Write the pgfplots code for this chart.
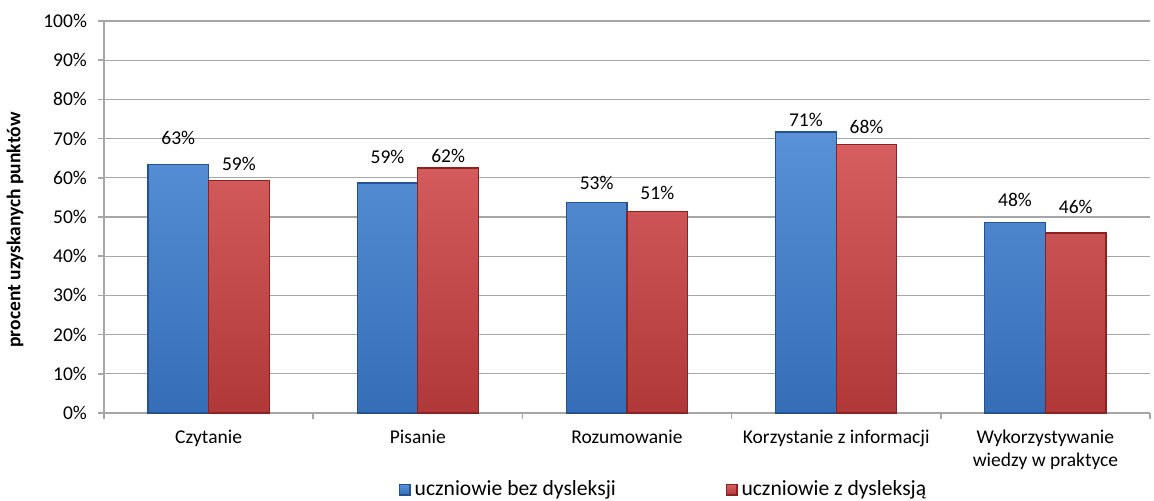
\documentclass[border=0pt]{standalone}
\usepackage{pgfplots}
\pgfplotsset{compat=1.18}
\usepackage{pgfplotstable}
\usepackage{fontspec}
\setmainfont{Carlito}

\definecolor{barblue}{HTML}{3C7DD0}
\definecolor{barblueedge}{HTML}{24528F}
\definecolor{barred}{HTML}{D04242}
\definecolor{barrededge}{HTML}{8A2222}
\definecolor{gridgray}{HTML}{A6A6A6}

% bar heights (percent)
\pgfplotstableread{
x blue red
0 63.3 59.4
1 58.7 62.5
2 53.6 51.5
3 71.7 68.4
4 48.5 45.9
}\wyniki

% data labels: text and vertical position of the label centre
\pgfplotstableread{
x blab bpos rlab rpos
0 63 70.2 59 63.5
1 59 65.3 62 65.6
2 53 58.7 51 56.1
3 71 74.7 68 73.0
4 48 54.3 46 52.6
}\etykiety

\begin{document}
\begin{tikzpicture}[font=\fontsize{9.75}{11.5}\selectfont]
\begin{axis}[
    name=ax,
    scale only axis,
    width=523pt,
    height=196pt,
    xmin=-0.5, xmax=4.5,
    ymin=0, ymax=100,
    ytick={0,10,...,100},
    yticklabel={\pgfmathprintnumber{\tick}\%},
    /pgf/number format/assume math mode=true,
    axis x line=bottom,
    axis y line=left,
    axis line style={gridgray, line width=0.8pt, -},
    ymajorgrids,
    grid style={gridgray, line width=0.6pt},
    xtick={0,...,4},
    xticklabels={Czytanie, Pisanie, Rozumowanie, Korzystanie z informacji, {Wykorzystywanie\\wiedzy w praktyce}},
    xticklabel style={align=center, yshift=-2pt},
    yticklabel style={xshift=-2pt},
    major x tick style={draw=none},
    minor xtick={-0.5,0.5,...,4.5},
    tick align=outside,
    major tick length=3pt,
    minor tick length=3pt,
    tick style={gridgray, line width=0.8pt},
    ylabel={\bfseries procent uzyskanych punktów},
    ylabel style={at={(rel axis cs:0,0.467)}, anchor=center, yshift=44.5pt},
    legend style={at={(0.536,-0.196)}, anchor=center, draw=none, fill=none,
        legend columns=2,
        /tikz/every even column/.append style={column sep=53pt},
        font=\fontsize{10.8}{12.5}\selectfont},
    legend image code/.code={\draw[#1] (0pt,-2.6pt) rectangle (5.2pt,2.6pt);},
]
\addplot[ybar, bar width=0.29, bar shift=-0.145, draw=barblueedge, line width=0.6pt,
    top color=barblue!85!white, bottom color=barblue!88!black]
    table[x=x, y=blue] {\wyniki};
\addlegendentry{uczniowie bez dysleksji}
\addplot[ybar, bar width=0.29, bar shift=0.145, draw=barrededge, line width=0.6pt,
    top color=barred!85!white, bottom color=barred!85!black]
    table[x=x, y=red] {\wyniki};
\addlegendentry{uczniowie z dysleksją}

\addplot[draw=none, mark=none, forget plot,
    nodes near coords={\pgfplotspointmeta\%},
    point meta=explicit symbolic,
    nodes near coords style={anchor=center, inner sep=0pt}]
    table[x expr=\thisrow{x}-0.145, y=bpos, meta=blab] {\etykiety};
\addplot[draw=none, mark=none, forget plot,
    nodes near coords={\pgfplotspointmeta\%},
    point meta=explicit symbolic,
    nodes near coords style={anchor=center, inner sep=0pt}]
    table[x expr=\thisrow{x}+0.145, y=rpos, meta=rlab] {\etykiety};
\end{axis}
\pgfresetboundingbox
\path[use as bounding box] ([xshift=-52pt,yshift=-43.5pt]ax.south west) rectangle ([xshift=2pt,yshift=10.5pt]ax.north east);
\end{tikzpicture}
\end{document}
